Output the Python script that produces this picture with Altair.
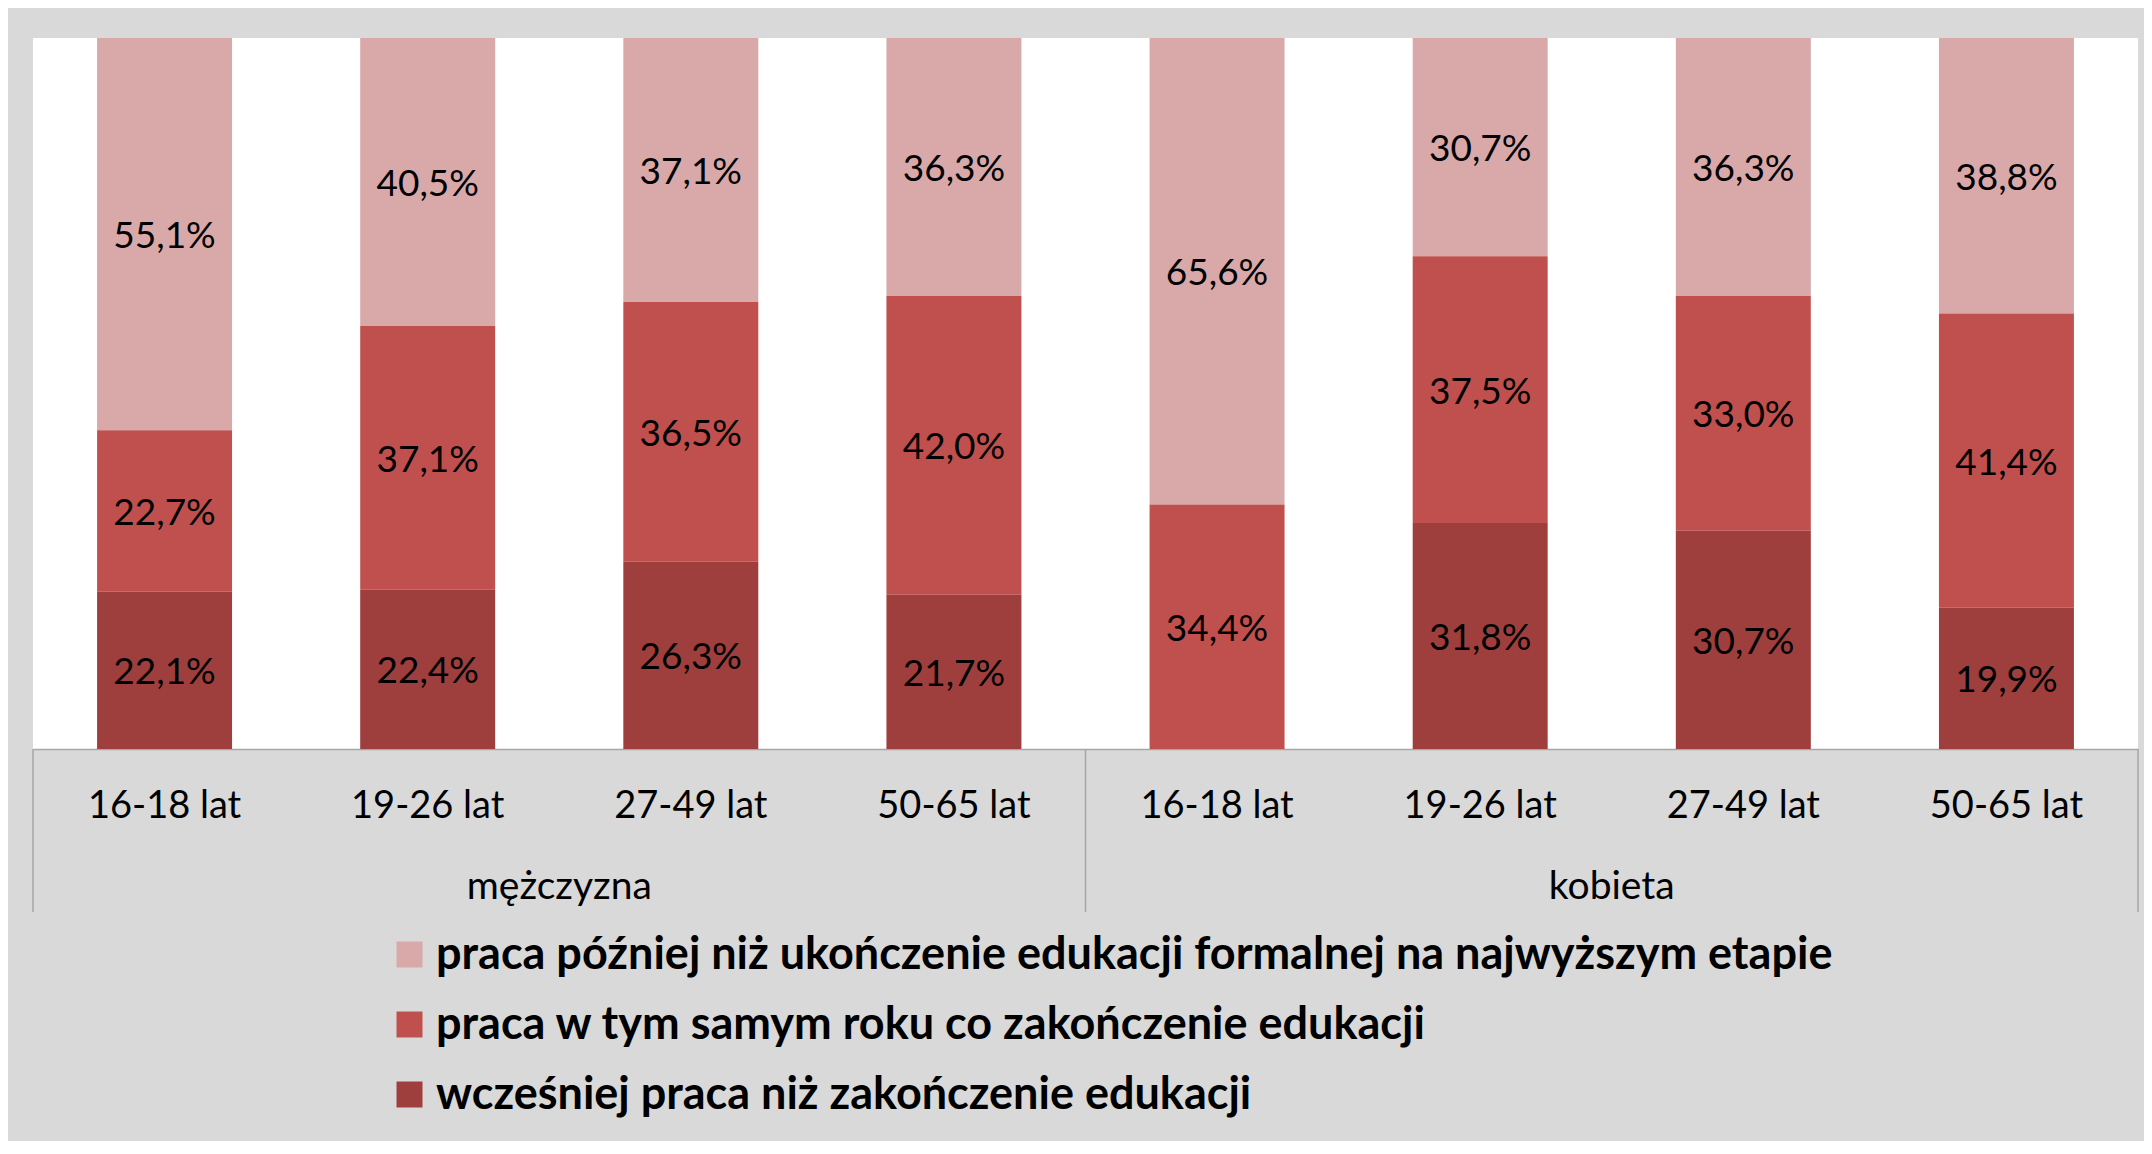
import altair as alt
import pandas as pd

genders = ["mężczyzna", "kobieta"]
ages = ["16-18 lat", "19-26 lat", "27-49 lat", "50-65 lat"]
series = [
    "praca później niż ukończenie edukacji formalnej na najwyższym etapie",
    "praca w tym samym roku co zakończenie edukacji",
    "wcześniej praca niż zakończenie edukacji",
]
later = [55.1, 40.5, 37.1, 36.3, 65.6, 30.7, 36.3, 38.8]
same = [22.7, 37.1, 36.5, 42.0, 34.4, 37.5, 33.0, 41.4]
earlier = [22.1, 22.4, 26.3, 21.7, None, 31.8, 30.7, 19.9]
colors = ["#D9A9AA", "#C0504D", "#9E3F3D"]

cats = [f"{gi}|{a}" for gi, _ in enumerate(genders) for a in ages]
rows = []
for i, cat in enumerate(cats):
    for si, vals in enumerate([later, same, earlier]):
        v = vals[i]
        if v is None:
            continue
        rows.append({"cat": cat, "series": series[si], "value": v, "order": 2 - si})
df = pd.DataFrame(rows)

grp = pd.DataFrame({"gx": [i + 0.5 for i in range(len(genders))], "g": genders})
seps = pd.DataFrame({"sx": list(range(len(genders) + 1))})

FONT = "Lato"
PLOT_W, PLOT_H = 2105, 711

xband = alt.Scale(domain=cats, paddingInner=0.487, paddingOuter=0.2435)

base = alt.Chart(df).transform_stack(
    stack="value", groupby=["cat"], as_=["y0", "y1"], offset="normalize",
    sort=[alt.SortField("order", order="ascending")]
).transform_calculate(
    mid="(datum.y0 + datum.y1) / 2",
    label="replace(format(datum.value, '.1f'), '.', ',') + '%'"
)

bars = base.mark_bar().encode(
    x=alt.X("cat:N", sort=cats, scale=xband, title=None,
            axis=alt.Axis(labelExpr="split(datum.value, '|')[1]", labelAngle=0, ticks=False,
                          domainColor="#A6A6A6", domainWidth=1.5, labelFont=FONT,
                          labelFontSize=38, labelColor="#000000", labelPadding=57,
                          labelBaseline="middle", grid=False)),
    y=alt.Y("y0:Q", scale=alt.Scale(domain=[0, 1]), axis=None),
    y2="y1:Q",
    color=alt.Color("series:N", scale=alt.Scale(domain=series, range=colors),
                    legend=alt.Legend(orient="none", legendX=354, legendY=894,
                                      direction="vertical", title=None, symbolType="square",
                                      symbolSize=676, symbolStrokeWidth=0, labelFont=FONT,
                                      labelFontSize=45, labelFontWeight="bold",
                                      labelColor="#000000", labelOffset=4, rowPadding=24,
                                      labelLimit=2000)),
)

texts = base.mark_text(font=FONT, fontSize=37, color="#000000", baseline="middle", dy=3).encode(
    x=alt.X("cat:N", sort=cats, scale=xband, axis=None),
    y=alt.Y("mid:Q", scale=alt.Scale(domain=[0, 1]), axis=None),
    text="label:N",
)

gx_scale = alt.Scale(domain=[0, len(genders)])
group_text = alt.Chart(grp).mark_text(font=FONT, fontSize=39, color="#000000", baseline="middle").encode(
    x=alt.X("gx:Q", scale=gx_scale, axis=None),
    y=alt.value(849),
    text="g:N",
)
sep_rules = alt.Chart(seps).mark_rule(color="#A6A6A6", strokeWidth=1.5).encode(
    x=alt.X("sx:Q", scale=gx_scale, axis=None),
    y=alt.value(711),
    y2=alt.value(874),
)

chart = alt.layer(bars, texts, group_text, sep_rules).resolve_scale(
    x="independent"
).properties(
    width=PLOT_W, height=PLOT_H,
    background="#D9D9D9",
    padding={"left": 25, "top": 30, "right": 6, "bottom": 392},
    autosize=alt.AutoSizeParams(type="none"),
).configure_view(fill="#FFFFFF", stroke=None)

chart.save("out.html", embed_options={"renderer": "svg", "actions": False})
